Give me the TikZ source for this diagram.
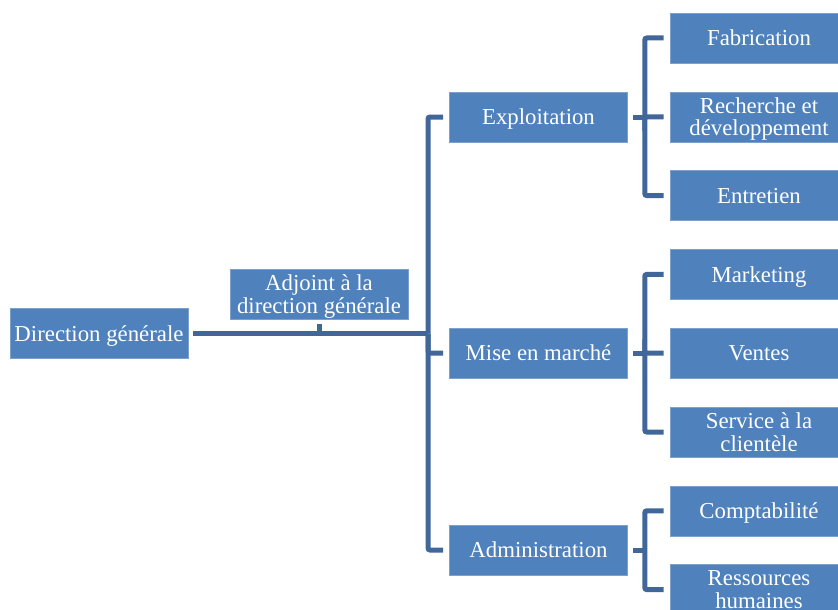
\documentclass[tikz,border=0pt]{standalone}
\usepackage{fontspec}
\setmainfont{Liberation Serif}
\usetikzlibrary{positioning}
\definecolor{unitblue}{RGB}{79,129,189}
\definecolor{unitedge}{RGB}{125,160,205}
\definecolor{linkblue}{RGB}{65,102,154}

\begin{document}
\begin{tikzpicture}[
      x=1pt,y=-1pt,
      node distance=28.2pt,
      unit/.style={draw=unitedge,line width=0.6pt,fill=unitblue,text=white,minimum width=178pt,minimum height=50pt,inner sep=1pt,text depth=0pt,align=center,font=\fontsize{22.8}{22.5}\selectfont},
      link/.style={linkblue,line width=5pt,rounded corners=2pt},
      tick/.style={link,shorten >=6pt}
    ]
      \clip (0,0) rectangle (838,610);
      % top level
      \node[unit] (dg) at (99,333.5) {Direction générale};
      \node[unit] (adj) at (319,294) {Adjoint à la\\direction générale};
      \node[unit] (expl) at (538.5,117) {Exploitation};
      \node[unit] (mise) at (538.5,353) {Mise en marché};
      \node[unit] (admin) at (538.5,550) {Administration};
      % services
      \node[unit] (fab) at (759,38) {Fabrication};
      \node[unit,below=of fab] (rd) {Recherche et\\développement};
      \node[unit,below=of rd] (entr) {Entretien};
      \node[unit,below=of entr] (mkt) {Marketing};
      \node[unit,below=of mkt] (vent) {Ventes};
      \node[unit,below=of vent] (serv) {Service à la\\clientèle};
      \node[unit,below=of serv] (compta) {Comptabilité};
      \node[unit,below=of compta] (rh) {Ressources\\humaines};
      % spines
      \coordinate (main) at (428,333.5);
      \coordinate (sexpl) at ([xshift=17pt]expl.east);
      \coordinate (smise) at ([xshift=17pt]mise.east);
      \coordinate (sadmin) at ([xshift=17pt]admin.east);
      \draw[link,shorten <=5pt] (dg.east) -- (main);
      \draw[link,shorten <=5pt] (adj.south) -- (adj.south |- main);
      \draw[tick] (main) |- (expl.west);
      \draw[tick] (main) |- (mise.west);
      \draw[tick] (main) |- (admin.west);
      \draw[link,shorten <=5pt] (expl.east) -- (sexpl);
      \draw[tick] (sexpl) |- (fab.west);
      \draw[tick] (sexpl) |- (rd.west);
      \draw[tick] (sexpl) |- (entr.west);
      \draw[link,shorten <=5pt] (mise.east) -- (smise);
      \draw[tick] (smise) |- (mkt.west);
      \draw[tick] (smise) |- (vent.west);
      \draw[tick] (smise) |- (serv.west);
      \draw[link,shorten <=5pt] (admin.east) -- (sadmin);
      \draw[tick] (sadmin) |- (compta.west);
      \draw[tick] (sadmin) |- (rh.west);
    \end{tikzpicture}
\end{document}
